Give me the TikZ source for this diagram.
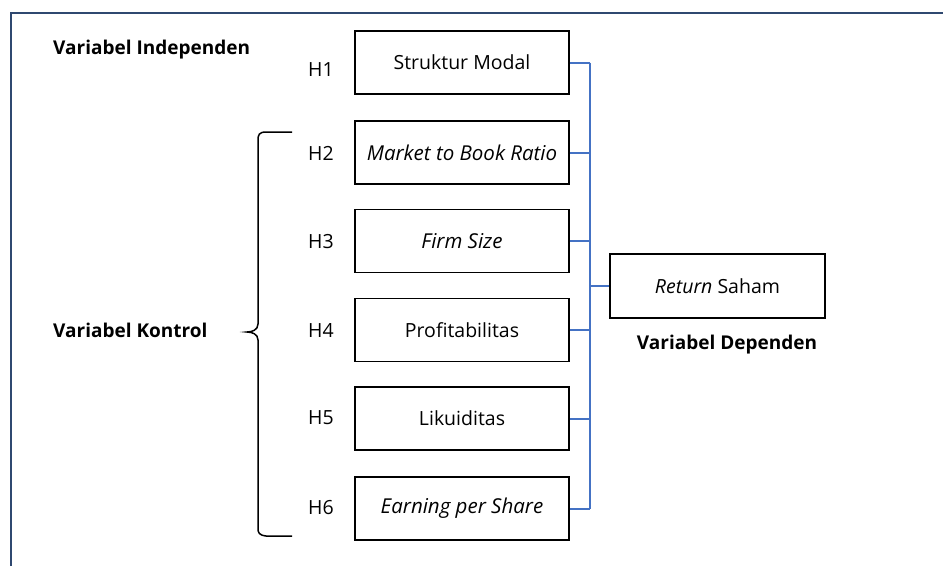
\documentclass[tikz,border=0pt]{standalone}
\usepackage{fontspec}
\setmainfont{Open Sans}
\definecolor{framec}{HTML}{2F4870}
\definecolor{linkc}{HTML}{4472C4}
\begin{document}
\begin{tikzpicture}[x=1pt,y=-1pt,
  varbox/.style={draw=black,line width=1.8pt,minimum width=214pt,minimum height=63pt,inner sep=0pt,font=\fontsize{19.5}{22}\selectfont},
  itbox/.style={varbox,font=\itshape\fontsize{20.5}{22}\selectfont},
  hlab/.style={font=\fontsize{19.5}{22}\selectfont,inner sep=0pt},
  grp/.style={font=\bfseries\fontsize{19}{22}\selectfont,inner sep=0pt},
  link/.style={draw=linkc,line width=2pt}]
\useasboundingbox (0,0) rectangle (943,566);
\draw[framec,line width=1.6pt] (11,566) -- (11,13) -- (943,13);
\node[varbox] (b1) at (462,62.5) {Struktur Modal};
\node[itbox] (b2) at (462,152.5) {Market to Book Ratio};
\node[itbox] (b3) at (462,241) {Firm Size};
\node[varbox] (b4) at (462,330) {Profitabilitas};
\node[varbox] (b5) at (462,418.5) {Likuiditas};
\node[itbox] (b6) at (462,508.5) {Earning per Share};
\node[varbox,minimum width=215pt,minimum height=64pt] (r) at (717.5,286) {\textit{Return} Saham};
\node[hlab] (h1) at (321,70) {H1};
\node[hlab] (h2) at (321,153) {H2};
\node[hlab] (h3) at (321,242) {H3};
\node[hlab] (h4) at (321,330) {H4};
\node[hlab] (h5) at (321,418) {H5};
\node[hlab] (h6) at (321,508) {H6};
\node[grp,anchor=west] (gi) at (53,50) {Variabel Independen};
\node[grp,anchor=west] (gk) at (53,330) {Variabel Kontrol};
\node[grp] (gd) at (727,345) {Variabel Dependen};
\coordinate (bus) at (590,0);
\foreach \b in {b1,b2,b3,b4,b5,b6}{
  \draw[link] (\b.east) -- (bus |- \b.east);
}
\draw[link] (bus |- b1.east) -- (bus |- b6.east);
\draw[link] (bus |- r.west) -- (r.west);
\draw[line width=1.5pt] (292,132) -- (266,132) .. controls (259,132) and (258,135) .. (258,140)
  -- (258,324) .. controls (258,330) and (252,332) .. (247,332)
  .. controls (252,332) and (258,334) .. (258,340)
  -- (258,528) .. controls (258,533) and (259,535) .. (266,536) -- (292,536);
\end{tikzpicture}
\end{document}
